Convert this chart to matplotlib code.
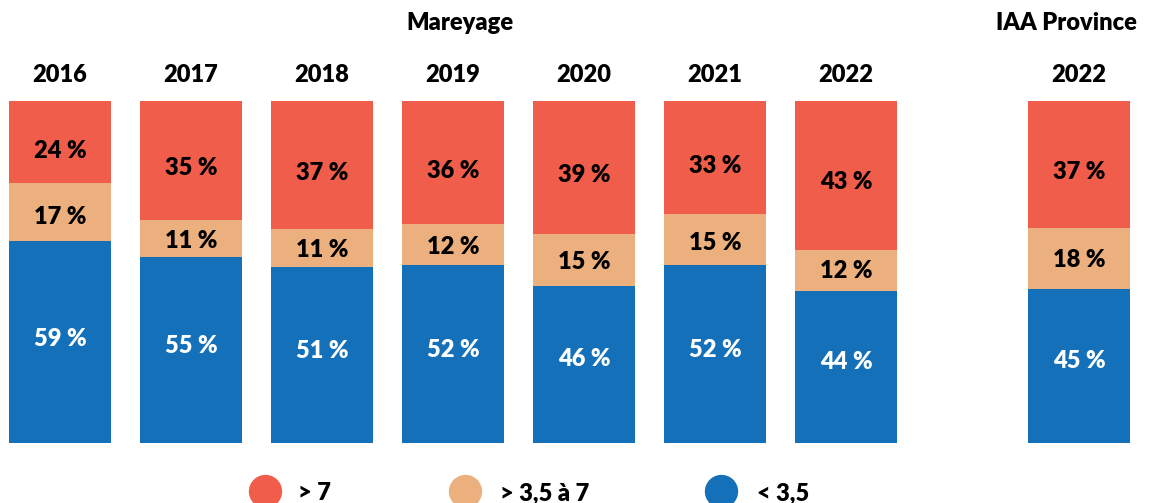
import matplotlib
matplotlib.use("Agg")
import matplotlib.pyplot as plt
from matplotlib.lines import Line2D
import numpy as np

# data
years = ["2016", "2017", "2018", "2019", "2020", "2021", "2022", "2022"]
over_7 = [24, 35, 37, 36, 39, 33, 43, 37]
mid = [17, 11, 11, 12, 15, 15, 12, 18]
under_35 = [59, 55, 51, 52, 46, 52, 44, 45]
series_names = ["> 7", "> 3,5 à 7", "< 3,5"]

RED = "#F15D4B"
ORANGE = "#ECB07E"
BLUE = "#1470B8"

plt.rcParams["font.family"] = ["Lato", "DejaVu Sans"]
FS = 17
W = "heavy"

fig = plt.figure(figsize=(11.56, 5.03), dpi=100)
ax = fig.add_axes([0, 60 / 503, 1, 342 / 503])

# bar positions: 7 Mareyage bars, then a gap before IAA Province
x = np.array([0, 1, 2, 3, 4, 5, 6, 7.78])
width = 0.78

vals = np.array([under_35, mid, over_7], dtype=float)
totals = vals.sum(axis=0)
norm = vals / totals * 100

colors = [BLUE, ORANGE, RED]
text_colors = ["white", "black", "black"]
bottom = np.zeros(len(x))
for i in range(3):
    ax.bar(x, norm[i], width=width, bottom=bottom, color=colors[i], linewidth=0)
    for j in range(len(x)):
        mid_y = bottom[j] + norm[i][j] / 2
        # labels sit slightly pulled towards the middle of the bar
        ax.text(x[j], 2.9 + 0.936 * mid_y, f"{int(vals[i][j])} %",
                ha="center", va="center", fontsize=FS, fontweight=W,
                color=text_colors[i])
    bottom += norm[i]

ax.set_xlim(-60 / 131, (1156 - 60) / 131)
ax.set_ylim(0, 100)
ax.axis("off")

for j in range(len(x)):
    ax.text(x[j], 107.5, years[j], ha="center", va="center", fontsize=FS,
            fontweight=W, clip_on=False)

ax.text(3.05, 122.7, "Mareyage", ha="center", va="center", fontsize=FS,
        fontweight=W, clip_on=False)
ax.text(7.68, 122.7, "IAA Province", ha="center", va="center", fontsize=FS,
        fontweight=W, clip_on=False)

# legend, placed by hand
leg_circle_x = [265, 465, 721]
leg_text_x = [298, 500, 757]
for cx, tx, c, name in zip(leg_circle_x, leg_text_x, [RED, ORANGE, BLUE], series_names):
    fig.add_artist(Line2D([cx / 1156], [1 - 491 / 503], marker="o", markersize=24,
                          markerfacecolor=c, markeredgewidth=0, linestyle="none",
                          transform=fig.transFigure))
    fig.text(tx / 1156, 1 - 500.5 / 503, name, ha="left", va="baseline",
             fontsize=FS, fontweight=W)

fig.savefig("out.png", dpi=100)
